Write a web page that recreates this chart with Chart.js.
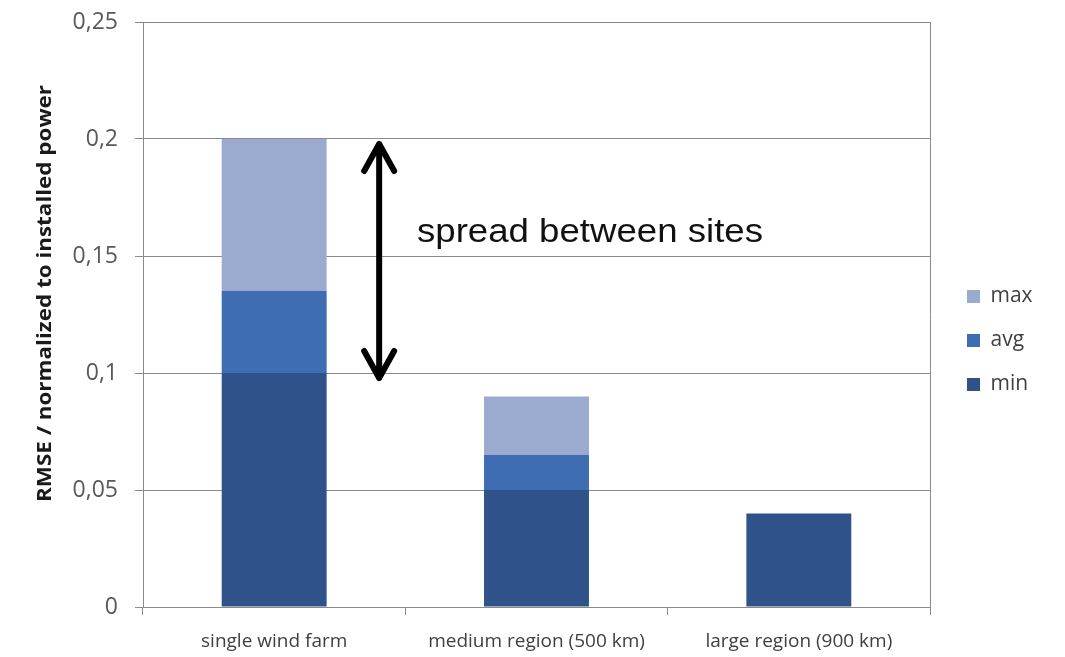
<!DOCTYPE html>
<html>
<head>
<meta charset="utf-8">
<title>RMSE spread</title>
<script src="https://cdn.jsdelivr.net/npm/chart.js@4.4.1/dist/chart.umd.min.js"></script>
<style>
  html, body { margin: 0; padding: 0; background: #fff; }
</style>
</head>
<body>
<canvas id="chart" width="1065" height="657"></canvas>
<script>
const categories = ['single wind farm', 'medium region (500 km)', 'large region (900 km)'];
const minValues = [0.1, 0.05, 0.04];
const avgValues = [0.135, 0.065, 0.04];
const maxValues = [0.2, 0.09, 0.04];
const yTicks = [0, 0.05, 0.1, 0.15, 0.2, 0.25];

const yTitle = 'RMSE / normalized to installed power';
const note = 'spread between sites';

const GRID = '#8a8a8a';

// stacked segments: min, then avg above min, then max above avg
const seg = (top, base) => top.map((v, i) => Number((v - base[i]).toFixed(4)));

// nudges the built-in legend to where the original sits
const legendShift = {
  id: 'legendShift',
  afterLayout(chart) {
    const l = chart.legend;
    l.left += 14; l.right += 14;
    l.top += 1; l.bottom += 1;
  },
};

function fitText(ctx, text, width) {
  const w = ctx.measureText(text).width;
  ctx.scale(width / w, 1);
  ctx.fillText(text, 0, 0);
}

const annotations = {
  id: 'annotations',
  afterDraw(chart) {
    const { ctx, scales: { x, y } } = chart;

    // double arrow next to the first bar
    const ax = x.getPixelForValue(0) + 105;
    const top = y.getPixelForValue(maxValues[0]) + 2;
    const bot = y.getPixelForValue(minValues[0]) + 8;
    ctx.save();
    ctx.strokeStyle = '#000';
    ctx.lineWidth = 6;
    ctx.lineCap = 'round';
    ctx.lineJoin = 'round';
    ctx.beginPath();
    ctx.moveTo(ax, top + 3);
    ctx.lineTo(ax, bot - 3);
    ctx.moveTo(ax - 15, top + 30);
    ctx.lineTo(ax, top + 3);
    ctx.lineTo(ax + 15, top + 30);
    ctx.moveTo(ax - 15, bot - 30);
    ctx.lineTo(ax, bot - 3);
    ctx.lineTo(ax + 15, bot - 30);
    ctx.stroke();
    ctx.restore();

    // label
    ctx.save();
    ctx.fillStyle = '#111';
    ctx.font = '34px "Liberation Sans", Arial, sans-serif';
    ctx.textAlign = 'left';
    ctx.textBaseline = 'alphabetic';
    ctx.translate(417, 242);
    fitText(ctx, note, 346);
    ctx.restore();

    // y axis title
    ctx.save();
    ctx.fillStyle = '#1a1a1a';
    ctx.font = 'bold 19px "Open Sans", sans-serif';
    ctx.textAlign = 'center';
    ctx.textBaseline = 'alphabetic';
    ctx.translate(51, 293.5);
    ctx.rotate(-Math.PI / 2);
    fitText(ctx, yTitle, 417);
    ctx.restore();
  },
};

new Chart(document.getElementById('chart'), {
  type: 'bar',
  data: {
    labels: categories,
    datasets: [
      { label: 'min', data: minValues, backgroundColor: '#30528a' },
      { label: 'avg', data: seg(avgValues, minValues), backgroundColor: '#3e6db1' },
      { label: 'max', data: seg(maxValues, avgValues), backgroundColor: '#9aabcf' },
    ],
  },
  options: {
    responsive: false,
    animation: false,
    devicePixelRatio: 1,
    layout: { padding: { top: 22, right: 45, bottom: 0, left: 0 } },
    datasets: { bar: { categoryPercentage: 1, barPercentage: 0.4, borderWidth: 0 } },
    plugins: {
      tooltip: { enabled: false },
      legend: {
        position: 'right',
        reverse: true,
        maxWidth: 90,
        labels: {
          boxWidth: 13,
          boxHeight: 13,
          padding: 23,
          color: '#404040',
          font: { family: 'Open Sans', size: 21 },
        },
      },
    },
    scales: {
      x: {
        stacked: true,
        afterFit: (s) => { s.height = 50; s.paddingLeft = 0; s.paddingRight = 0; },
        border: { color: GRID },
        grid: {
          offset: true,
          color: (c) => (c.type === 'tick' ? 'rgba(0,0,0,0)' : GRID),
          tickColor: GRID,
          tickLength: 8,
        },
        ticks: {
          padding: 15,
          color: '#404040',
          font: { family: 'Open Sans', size: 19 },
          maxRotation: 0,
        },
      },
      y: {
        stacked: true,
        min: 0,
        max: 0.25,
        afterFit: (s) => { s.width = 143; s.paddingTop = 0; s.paddingBottom = 0; },
        afterBuildTicks: (s) => { s.ticks = yTicks.map((v) => ({ value: v })); },
        border: { color: GRID },
        grid: { color: GRID, tickLength: 8 },
        ticks: {
          padding: 17,
          color: '#595959',
          font: { family: 'Open Sans', size: 23 },
          callback: (v) => String(v).replace('.', ','),
        },
      },
    },
  },
  plugins: [legendShift, annotations],
});
</script>
</body>
</html>
